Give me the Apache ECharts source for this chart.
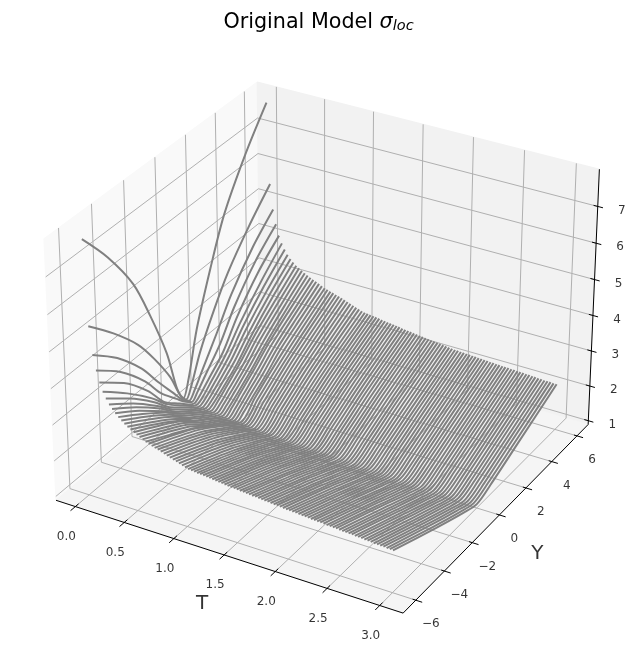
<!DOCTYPE html>
<html><head><meta charset="utf-8"><style>html,body{margin:0;background:#fff}#c{width:637px;height:662px}</style>
<script src="https://cdn.jsdelivr.net/npm/echarts@6/dist/echarts.min.js"></script></head><body><div id="c"></div>
<script>
const tTicks=[0,0.5,1,1.5,2,2.5,3];
const yTicks=[-6,-4,-2,0,2,4,6];
const zTicks=[1,2,3,4,5,6,7];
const tLim=[-0.2,3.22], yLim=[-6.87,6.9], zLim=[0.89,8.0];
const nearY=[-6,-4.5,-3,-2,-1,-0.4,0,0.4,1,2,3,4.5,6];
const nearT=[0.03,0.06,0.09,0.12,0.15,0.18,0.21,0.24,0.27,0.30,0.33,0.36,0.39,0.42,0.45,0.48,0.51,0.54,0.57,0.60];
const nearSigma=[
[7.88,6.91,5.7,4.5,3.1,1.9,1.45,1.9,3.08,4.47,5.67,6.87,7.85],
[5.6,4.89,4.06,3.32,2.45,1.74,1.45,1.74,2.45,3.32,4.06,4.89,5.6],
[4.85,4.24,3.42,2.7,2.02,1.61,1.44,1.61,2.03,2.72,3.45,4.28,4.9],
[4.45,3.88,3.09,2.4,1.88,1.58,1.43,1.58,1.89,2.41,3.12,3.92,4.5],
[4.15,3.6,2.84,2.18,1.77,1.53,1.42,1.53,1.78,2.2,2.87,3.64,4.2],
[3.92,3.34,2.67,2.14,1.74,1.51,1.41,1.51,1.75,2.16,2.71,3.4,4],
[3.76,3.22,2.58,2.08,1.71,1.49,1.4,1.5,1.72,2.11,2.63,3.29,3.85],
[3.62,3.11,2.5,2.04,1.68,1.48,1.39,1.48,1.69,2.07,2.56,3.18,3.72],
[3.52,3.03,2.45,2,1.66,1.47,1.38,1.47,1.67,2.03,2.5,3.1,3.62],
[3.43,2.96,2.4,1.97,1.64,1.45,1.37,1.46,1.65,2,2.46,3.04,3.54],
[3.35,2.89,2.39,2,1.66,1.46,1.36,1.47,1.68,2.04,2.46,2.98,3.47],
[3.28,2.84,2.35,1.97,1.64,1.45,1.35,1.45,1.66,2.01,2.43,2.94,3.42],
[3.22,2.79,2.32,1.94,1.62,1.43,1.34,1.44,1.64,1.99,2.4,2.9,3.37],
[3.16,2.74,2.28,1.92,1.6,1.42,1.33,1.43,1.63,1.97,2.36,2.86,3.32],
[3.11,2.7,2.25,1.89,1.59,1.41,1.32,1.42,1.61,1.95,2.34,2.83,3.28],
[3.06,2.68,2.27,1.92,1.61,1.41,1.31,1.43,1.64,1.99,2.37,2.82,3.24],
[3.02,2.64,2.25,1.9,1.59,1.4,1.3,1.41,1.62,1.97,2.35,2.78,3.2],
[2.98,2.61,2.22,1.88,1.58,1.39,1.29,1.4,1.61,1.95,2.32,2.76,3.17],
[2.94,2.58,2.2,1.86,1.57,1.38,1.285,1.39,1.6,1.93,2.3,2.72,3.13],
[2.9,2.54,2.17,1.85,1.56,1.38,1.28,1.39,1.59,1.91,2.28,2.69,3.09]];
const farY=[-6,-3,-1,0,1,3,6];
const farT=[0.63,0.66,0.69,0.72,0.75,0.78,0.81,0.84,0.87,0.90,0.93,0.96,0.99,1.02,1.05,1.08,1.11,1.14,1.17,1.20,1.23,1.26,1.29,1.32,1.35,1.38,1.41,1.44,1.47,1.50,1.53,1.56,1.59,1.62,1.65,1.68,1.71,1.74,1.77,1.80,1.83,1.86,1.89,1.92,1.95,1.98,2.01,2.04,2.07,2.10,2.13,2.16,2.19,2.22,2.25,2.28,2.31,2.34,2.37,2.40,2.43,2.46,2.49,2.52,2.55,2.58,2.61,2.64,2.67,2.70,2.73,2.76,2.79,2.82,2.85,2.88,2.91,2.94,2.97,3.00];
const farSigma=[
[2.87,2.2,1.59,1.27,1.62,2.25,3.05],[2.84,2.18,1.58,1.27,1.61,2.23,3.03],[2.81,2.15,1.56,1.26,1.6,2.21,3],[2.79,2.13,1.55,1.26,1.58,2.2,2.98],
[2.76,2.11,1.54,1.25,1.57,2.18,2.95],[2.73,2.09,1.53,1.24,1.56,2.16,2.93],[2.7,2.07,1.52,1.24,1.55,2.14,2.9],[2.67,2.04,1.5,1.23,1.54,2.12,2.87],
[2.64,2.02,1.49,1.22,1.53,2.1,2.84],[2.62,2,1.48,1.22,1.51,2.08,2.81],[2.59,1.98,1.47,1.21,1.5,2.06,2.78],[2.56,1.96,1.46,1.21,1.49,2.05,2.75],
[2.53,1.94,1.44,1.2,1.47,2.03,2.72],[2.51,1.92,1.44,1.2,1.46,2.01,2.69],[2.5,1.91,1.43,1.19,1.46,2,2.67],[2.49,1.9,1.42,1.19,1.45,1.99,2.66],
[2.48,1.89,1.42,1.19,1.44,1.98,2.65],[2.48,1.88,1.41,1.18,1.44,1.97,2.64],[2.47,1.87,1.4,1.18,1.43,1.96,2.63],[2.46,1.87,1.4,1.18,1.42,1.95,2.62],
[2.45,1.86,1.39,1.17,1.42,1.94,2.6],[2.44,1.85,1.38,1.17,1.41,1.93,2.59],[2.43,1.84,1.38,1.17,1.4,1.92,2.58],[2.42,1.83,1.37,1.16,1.4,1.91,2.57],
[2.41,1.82,1.36,1.16,1.39,1.9,2.56],[2.4,1.81,1.36,1.15,1.38,1.89,2.55],[2.39,1.8,1.35,1.15,1.38,1.88,2.54],[2.38,1.79,1.35,1.15,1.37,1.87,2.52],
[2.38,1.79,1.34,1.14,1.36,1.86,2.51],[2.37,1.78,1.34,1.14,1.36,1.85,2.5],[2.36,1.77,1.33,1.14,1.35,1.84,2.49],[2.36,1.76,1.33,1.13,1.35,1.83,2.48],
[2.35,1.76,1.32,1.13,1.34,1.82,2.47],[2.34,1.75,1.32,1.13,1.34,1.82,2.46],[2.33,1.75,1.31,1.12,1.33,1.81,2.45],[2.33,1.74,1.31,1.12,1.33,1.8,2.44],
[2.32,1.73,1.3,1.11,1.32,1.79,2.43],[2.31,1.73,1.3,1.11,1.31,1.78,2.42],[2.3,1.72,1.29,1.11,1.31,1.77,2.41],[2.3,1.71,1.29,1.1,1.3,1.77,2.4],
[2.29,1.7,1.28,1.1,1.3,1.76,2.39],[2.28,1.7,1.28,1.1,1.29,1.75,2.38],[2.28,1.69,1.27,1.09,1.29,1.74,2.37],[2.27,1.68,1.27,1.09,1.28,1.73,2.36],
[2.26,1.68,1.26,1.09,1.28,1.72,2.35],[2.25,1.67,1.26,1.08,1.27,1.71,2.34],[2.25,1.66,1.25,1.08,1.27,1.71,2.34],[2.24,1.66,1.25,1.08,1.26,1.7,2.33],
[2.24,1.65,1.25,1.07,1.26,1.7,2.33],[2.23,1.65,1.24,1.07,1.25,1.69,2.32],[2.22,1.64,1.24,1.07,1.25,1.69,2.32],[2.22,1.64,1.24,1.07,1.25,1.68,2.31],
[2.21,1.63,1.23,1.06,1.24,1.68,2.31],[2.2,1.63,1.23,1.06,1.24,1.67,2.3],[2.2,1.62,1.22,1.06,1.23,1.67,2.3],[2.19,1.62,1.22,1.05,1.23,1.66,2.29],
[2.19,1.61,1.22,1.05,1.23,1.66,2.29],[2.18,1.61,1.21,1.05,1.22,1.65,2.28],[2.17,1.6,1.21,1.04,1.22,1.65,2.28],[2.17,1.6,1.2,1.04,1.21,1.64,2.27],
[2.16,1.59,1.2,1.04,1.21,1.64,2.27],[2.16,1.59,1.2,1.03,1.2,1.63,2.26],[2.15,1.58,1.19,1.03,1.2,1.63,2.26],[2.14,1.57,1.19,1.03,1.2,1.63,2.26],
[2.14,1.57,1.19,1.03,1.19,1.62,2.25],[2.13,1.56,1.18,1.02,1.19,1.62,2.25],[2.13,1.56,1.18,1.02,1.19,1.62,2.24],[2.12,1.55,1.18,1.02,1.19,1.61,2.24],
[2.12,1.55,1.17,1.02,1.18,1.61,2.24],[2.11,1.54,1.17,1.02,1.18,1.6,2.23],[2.1,1.54,1.17,1.01,1.18,1.6,2.23],[2.1,1.53,1.16,1.01,1.18,1.6,2.22],
[2.09,1.52,1.16,1.01,1.17,1.59,2.22],[2.08,1.52,1.16,1.01,1.17,1.59,2.21],[2.08,1.51,1.15,1.01,1.17,1.59,2.21],[2.07,1.51,1.15,1,1.17,1.58,2.2],
[2.07,1.5,1.15,1,1.16,1.58,2.2],[2.06,1.5,1.15,1,1.16,1.58,2.2],[2.06,1.49,1.14,1,1.16,1.57,2.19],[2.05,1.49,1.14,1,1.16,1.57,2.19]];
const BOX=[1.143,1.143,0.857],D=10,U=[.8660254,.5,0],V=[-.25,.4330127,.8660254],W=[.4330127,-.75,.5];
function P(t,y,z){const p=[(t-tLim[0])/(tLim[1]-tLim[0])-.5,(y-yLim[0])/(yLim[1]-yLim[0])-.5,(z-zLim[0])/(zLim[1]-zLim[0])-.5].map((v,i)=>v*BOX[i]);
 const dot=a=>a[0]*p[0]+a[1]*p[1]+a[2]*p[2];const d=D-dot(W);return [dot(U)/d,dot(V)/d];}
const S=3480,cx=326.8,cy=335.3;
const seg=(pts,color,w)=>({type:'line',data:pts.map(a=>P(...a)),showSymbol:false,silent:true,lineStyle:{color,width:w},animation:false});
const series=[];
const [x0,x1]=tLim,[y0,y1]=yLim,[z0,z1]=zLim;
const panes=[[[x0,y0,z0],[x0,y1,z0],[x0,y1,z1],[x0,y0,z1],'#f9f9f9'],[[x0,y1,z0],[x1,y1,z0],[x1,y1,z1],[x0,y1,z1],'#f2f2f2'],[[x0,y0,z0],[x1,y0,z0],[x1,y1,z0],[x0,y1,z0],'#f5f5f5']];
series.push({type:'custom',silent:true,animation:false,data:panes.map((_,i)=>i),renderItem:(p,api)=>{const q=panes[api.value(0)];return{type:'polygon',shape:{points:q.slice(0,4).map(a=>api.coord(P(...a)))},style:{fill:q[4],stroke:q[4],lineWidth:1}}},encode:{x:0,y:0}});
const G='#b0b0b0';
tTicks.forEach(t=>{series.push(seg([[t,y0,z0],[t,y1,z0],[t,y1,z1]],G,1));});
yTicks.forEach(y=>{series.push(seg([[x1,y,z0],[x0,y,z0],[x0,y,z1]],G,1));});
zTicks.forEach(z=>{series.push(seg([[x0,y0,z],[x0,y1,z],[x1,y1,z]],G,1));});
series.push(seg([[x0,y0,z0],[x1,y0,z0],[x1,y1,z0],[x1,y1,z1]],'#000',1));
tTicks.forEach(t=>series.push(seg([[t,y0+.2,z0],[t,y0-.3,z0]],'#000',1)));
yTicks.forEach(y=>series.push(seg([[x1-.03,y,z0],[x1+.06,y,z0]],'#000',1)));
zTicks.forEach(z=>series.push(seg([[x1-.04,y1,z],[x1+.05,y1,z]],'#000',1)));
const curve=(t,ys,row)=>{const s=seg(ys.map((y,j)=>[t,y,row[j]]),'#808080',2);s.smooth=.3;return s;};
nearT.forEach((t,i)=>series.push(curve(t,nearY,nearSigma[i])));
farT.forEach((t,i)=>series.push(curve(t,farY,farSigma[i])));
const lab=(pts,f,off,size)=>({type:'scatter',silent:true,animation:false,symbolSize:0,data:pts.map(a=>({value:P(...a),label:{show:true,formatter:f(a),position:'inside',offset:off,color:'#000',fontFamily:'DejaVu Sans',fontSize:size}}))});
const fm=v=>String(v).replace('-','\u2212');
series.push(lab(tTicks.map(t=>[t,y0,z0]),a=>a[0].toFixed(1),[-9,30],12));
series.push(lab(yTicks.map(y=>[x1,y,z0]),a=>fm(a[1]),[15,24],12));
series.push(lab(zTicks.map(z=>[x1,y1,z]),a=>fm(a[2]),[24,4],12));
series.push(lab([[1.5,y0,z0]],a=>'T',[-22,49],20));
series.push(lab([[x1,0,z0]],a=>'Y',[38,39],20));
const xmin=-cx/S,xmax=(637-cx)/S,ymax=cy/S,ymin=(cy-662)/S;
const tb={fontFamily:'DejaVu Sans',color:'#000',fontWeight:'normal'};
echarts.init(document.getElementById('c')).setOption({animation:false,backgroundColor:'#fff',
title:{text:'{a|Original Model }{s|\u03c3}{b|loc}',left:'center',top:6,textStyle:{fontWeight:'normal',rich:{a:{...tb,fontSize:20.7},s:{...tb,fontStyle:'italic',fontSize:20.7},b:{...tb,fontStyle:'italic',fontSize:14.5,padding:[8,0,0,0]}}}},
grid:{left:0,right:0,top:0,bottom:0},
xAxis:{type:'value',min:xmin,max:xmax,show:false},yAxis:{type:'value',min:ymin,max:ymax,show:false},series});
</script></body></html>
